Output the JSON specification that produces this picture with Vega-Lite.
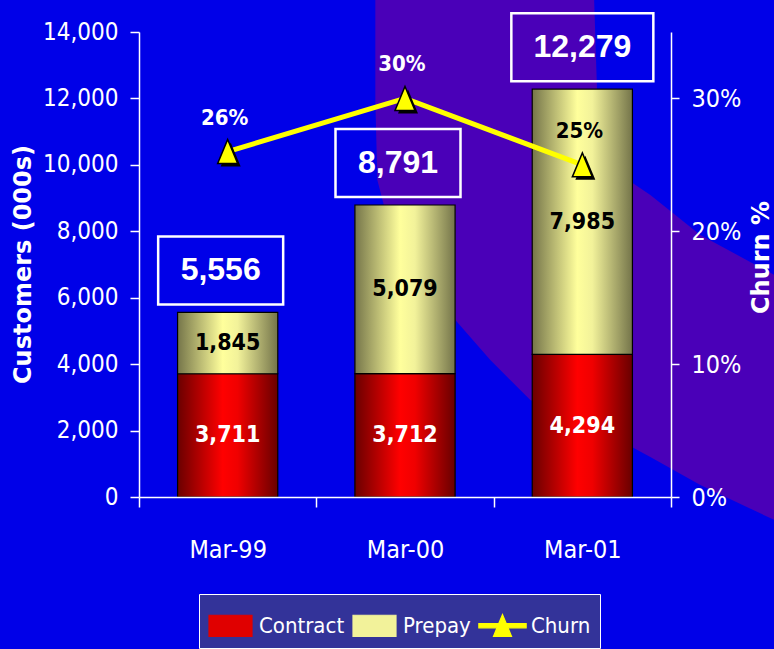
{
  "$schema": "https://vega.github.io/schema/vega-lite/v6.json",
  "width": 532,
  "height": 465,
  "autosize": {"type": "none"},
  "padding": {"left": 139, "top": 32, "right": 103, "bottom": 152},
  "background": "#0000E8",
  "config": {"view": {"stroke": null}, "axis": {"zindex": 1, "grid": false}},
  "datasets": {
    "bars": [
      {"period": "Mar-99", "series": "Contract", "value": 3711},
      {"period": "Mar-99", "series": "Prepay", "value": 1845},
      {"period": "Mar-00", "series": "Contract", "value": 3712},
      {"period": "Mar-00", "series": "Prepay", "value": 5079},
      {"period": "Mar-01", "series": "Contract", "value": 4294},
      {"period": "Mar-01", "series": "Prepay", "value": 7985}
    ],
    "totals": [
      {"period": "Mar-99", "total": 5556},
      {"period": "Mar-00", "total": 8791},
      {"period": "Mar-01", "total": 12279}
    ],
    "churn": [
      {"period": "Mar-99", "churn": 0.26},
      {"period": "Mar-00", "churn": 0.30},
      {"period": "Mar-01", "churn": 0.25}
    ],
    "backdrop": [{"item": "backdrop"}]
  },
  "encoding": {
    "x": {
      "field": "period",
      "type": "nominal",
      "scale": {"domain": ["Mar-99", "Mar-00", "Mar-01"], "paddingInner": 0, "paddingOuter": 0},
      "axis": {
        "title": null,
        "zindex": 1,
        "labelAngle": 0,
        "labelColor": "white",
        "labelFont": "DejaVu Sans Condensed, sans-serif",
        "labelFontSize": 25,
        "labelPadding": 30,
        "tickSize": 10,
        "tickBand": "extent",
        "domainColor": "white",
        "tickColor": "white",
        "domainWidth": 1.5,
        "tickWidth": 1.5
      }
    }
  },
  "layer": [
    {
      "layer": [
        {
          "data": {"name": "backdrop"},
          "mark": {
            "type": "point",
            "filled": true,
            "fill": "#4A00B8",
            "opacity": 1,
            "strokeWidth": 0,
            "size": 4,
            "shape": "M-207,-290L11,-290L15,-164.5L31,-94.5L68,-69.5L118,-29.5L192,10.5L230,30L230,290L192,255.5L118,220.5L68,192.5L18,165.5L-52,135.5L-92,95.5L-127,55.5L-162,5.5L-192,-34.5L-205,-84.5L-207,-164.5Z"
          },
          "encoding": {
            "x": {"datum": "Mar-01", "type": "nominal"}
          }
        },
        {
          "data": {"name": "bars"},
          "mark": {"type": "bar", "width": {"band": 0.565}},
          "encoding": {
            "y": {
              "field": "value",
              "type": "quantitative",
              "stack": "zero",
              "title": "Customers (000s)",
              "scale": {"domain": [0, 14000]},
              "axis": {
                "zindex": 1,
                "values": [0, 2000, 4000, 6000, 8000, 10000, 12000, 14000],
                "format": ",d",
                "labelColor": "white",
                "labelFont": "DejaVu Sans Condensed, sans-serif",
                "labelFontSize": 24,
                "labelPadding": 12,
                "tickSize": 9,
                "domainColor": "white",
                "tickColor": "white",
                "domainWidth": 1.5,
                "tickWidth": 1.5,
                "titleColor": "white",
                "titleFont": "DejaVu Sans",
                "titleFontWeight": "bold",
                "titleFontSize": 24,
                "titleAngle": 270,
                "titleBaseline": "middle",
                "titleAlign": "center",
                "titleX": -116,
                "titleY": 232
              }
            },
            "color": {
              "field": "series",
              "type": "nominal",
              "scale": {"domain": ["Contract", "Prepay", "Churn"], "range": ["#E00000", "#F2F29A", "#FFFF00"]},
              "legend": {
                "title": null,
                "orient": "none",
                "legendX": 60,
                "legendY": 562,
                "direction": "horizontal",
                "fillColor": "#333399",
                "strokeColor": "white",
                "padding": 9,
                "labelColor": "white",
                "labelFont": "DejaVu Sans Condensed, sans-serif",
                "labelFontSize": 22,
                "labelOffset": 6,
                "columnPadding": 5,
                "symbolSize": 1849,
                "encode": {
                  "symbols": {
                    "update": {
                      "shape": {"signal": "datum.value === 'Churn' ? 'M-1.1,-0.1H-0.173L0,-0.52L0.173,-0.1H1.1V0.1H0.255L0.42,0.5H-0.42L-0.255,0.1H-1.1Z' : 'M-1,-0.49H1V0.49H-1Z'"},
                      "stroke": {"value": "black"},
                      "strokeWidth": {"value": 1.2},
                      "opacity": {"value": 1},
                      "size": {"value": 1849}
                    }
                  }
                }
              }
            },
            "order": {"field": "series", "sort": "ascending"}
          }
        },
        {
          "data": {"name": "bars"},
          "mark": {"type": "bar", "width": {"band": 0.565}, "stroke": "black", "strokeWidth": 1.2},
          "encoding": {
            "y": {"field": "value", "type": "quantitative", "stack": "zero", "title": "Customers (000s)"},
            "detail": {"field": "series"},
            "order": {"field": "series", "sort": "ascending"},
            "fill": {
              "condition": {
                "test": "datum.series === 'Contract'",
                "value": {"gradient": "linear", "x1": 0, "y1": 0, "x2": 1, "y2": 0, "stops": [{"offset": 0, "color": "#6A0000"}, {"offset": 0.45, "color": "#FF0000"}, {"offset": 0.6, "color": "#F00000"}, {"offset": 1, "color": "#680000"}]}
              },
              "value": {"gradient": "linear", "x1": 0, "y1": 0, "x2": 1, "y2": 0, "stops": [{"offset": 0, "color": "#75754A"}, {"offset": 0.45, "color": "#FFFF9C"}, {"offset": 0.6, "color": "#F2F29A"}, {"offset": 1, "color": "#74744A"}]}
            }
          }
        },
        {
          "data": {"name": "bars"},
          "transform": [
            {"stack": "value", "groupby": ["period"], "sort": [{"field": "series", "order": "ascending"}], "as": ["v0", "v1"]},
            {"fold": ["v0", "v1"], "as": ["edgeName", "edge"]},
            {"aggregate": [{"op": "mean", "field": "edge", "as": "mid"}], "groupby": ["period", "series", "value"]}
          ],
          "mark": {
            "type": "text",
            "font": "DejaVu Sans Condensed, sans-serif",
            "fontWeight": "bold",
            "fontSize": 23,
            "baseline": "middle",
            "align": "center"
          },
          "encoding": {
            "y": {"field": "mid", "type": "quantitative", "title": "Customers (000s)"},
            "text": {"field": "value", "type": "quantitative", "format": ","},
            "color": {"condition": {"test": "datum.series === 'Contract'", "value": "white"}, "value": "black"}
          }
        },
        {
          "data": {"name": "totals"},
          "mark": {"type": "point", "filled": false, "stroke": "white", "strokeWidth": 2.5, "opacity": 1, "size": 4, "yOffset": -42},
          "encoding": {
            "y": {"field": "total", "type": "quantitative", "title": "Customers (000s)"},
            "shape": {"condition": {"test": "datum.total > 10000", "value": "M-71,-34H71V34H-71Z"}, "value": "M-69.5,-34H55.5V34H-69.5Z"}
          }
        },
        {
          "data": {"name": "totals"},
          "transform": [{"filter": "datum.total < 10000"}],
          "mark": {"type": "text", "font": "Liberation Sans, Arial, sans-serif", "fontWeight": "bold", "fontSize": 32, "color": "white", "baseline": "middle", "align": "center", "dy": -42, "dx": -7},
          "encoding": {
            "y": {"field": "total", "type": "quantitative", "title": "Customers (000s)"},
            "text": {"field": "total", "type": "quantitative", "format": ","}
          }
        },
        {
          "data": {"name": "totals"},
          "transform": [{"filter": "datum.total >= 10000"}],
          "mark": {"type": "text", "font": "Liberation Sans, Arial, sans-serif", "fontWeight": "bold", "fontSize": 32, "color": "white", "baseline": "middle", "align": "center", "dy": -42},
          "encoding": {
            "y": {"field": "total", "type": "quantitative", "title": "Customers (000s)"},
            "text": {"field": "total", "type": "quantitative", "format": ","}
          }
        }
      ]
    },
    {
      "data": {"name": "churn"},
      "layer": [
        {
          "mark": {"type": "line", "strokeWidth": 5},
          "encoding": {
            "y": {
              "field": "churn",
              "type": "quantitative",
              "title": "Churn %",
              "scale": {"domain": [0, 0.35]},
              "axis": {
                "zindex": 2,
                "orient": "right",
                "values": [0, 0.1, 0.2, 0.3],
                "format": ".0%",
                "labelColor": "white",
                "labelFont": "DejaVu Sans Condensed, sans-serif",
                "labelFontSize": 25,
                "labelPadding": 12,
                "tickSize": 8,
                "domainColor": "white",
                "tickColor": "white",
                "domainWidth": 1.5,
                "tickWidth": 1.5,
                "titleColor": "white",
                "titleFont": "DejaVu Sans",
                "titleFontWeight": "bold",
                "titleFontSize": 24,
                "titleAngle": 270,
                "titleBaseline": "middle",
                "titleAlign": "center",
                "titleX": 90,
                "titleY": 225
              }
            },
            "color": {"datum": "Churn", "type": "nominal"}
          }
        },
        {
          "mark": {"type": "point", "shape": "M0,-1.2L1,1.2L-1,1.2Z", "size": 400, "filled": true, "fill": "black", "opacity": 1, "strokeWidth": 0, "xOffset": 3, "yOffset": 3},
          "encoding": {"y": {"field": "churn", "type": "quantitative", "title": "Churn %"}}
        },
        {
          "mark": {"type": "point", "shape": "M0,-1.2L1,1.2L-1,1.2Z", "size": 400, "filled": true, "fill": "#FFFF00", "stroke": "black", "strokeWidth": 1.5, "opacity": 1},
          "encoding": {"y": {"field": "churn", "type": "quantitative", "title": "Churn %"}}
        },
        {
          "mark": {"type": "text", "font": "DejaVu Sans Condensed, sans-serif", "fontWeight": "bold", "fontSize": 22, "baseline": "middle", "align": "center", "dy": -34, "dx": -3},
          "encoding": {
            "y": {"field": "churn", "type": "quantitative", "title": "Churn %"},
            "text": {"field": "churn", "type": "quantitative", "format": ".0%"},
            "color": {"condition": {"test": "datum.period === 'Mar-01'", "value": "black"}, "value": "white"}
          }
        }
      ]
    }
  ],
  "resolve": {"scale": {"y": "independent"}}
}
